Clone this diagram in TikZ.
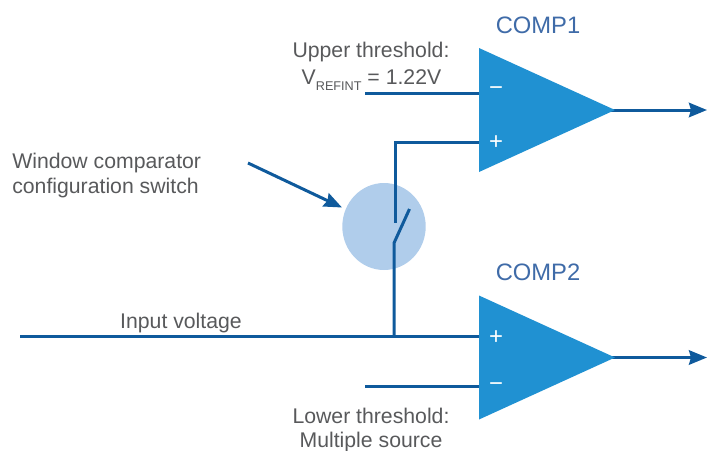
\documentclass[tikz,border=0pt]{standalone}
\usepackage{fontspec}
\setmainfont{Liberation Sans}
\usetikzlibrary{positioning,arrows.meta,calc}
\definecolor{wireblue}{HTML}{0F5A9C}
\definecolor{compblue}{HTML}{2091D2}
\definecolor{switchblue}{HTML}{B0CDEB}
\definecolor{titleblue}{HTML}{3F6BA8}
\definecolor{labelgray}{HTML}{58595B}
\tikzset{
  wire/.style={draw=wireblue,line width=0.075cm},
  outwire/.style={wire,-{Stealth[length=0.45cm,width=0.36cm,inset=0.05cm]}},
  comp/.style={fill=compblue},
  pin/.style={text=white,font=\fontsize{17}{17}\selectfont,inner sep=0pt},
  comptitle/.style={text=titleblue,font=\fontsize{16.9}{18}\selectfont,inner sep=0pt},
  lbl/.style={text=labelgray,font=\fontsize{15.1}{17.8}\selectfont,inner sep=0pt,align=center}
}
\begin{document}
\begin{tikzpicture}[x=0.025cm,y=-0.025cm]
  \useasboundingbox (0,0) rectangle (708,450);
  % switch
  \fill[switchblue] (384,226.5) ellipse (41.7 and 43.5);
  \coordinate (closeA) at (395.5,142);
  \coordinate (closeB) at (395.5,223);
  \coordinate (bladeTop) at (409.5,209);
  \coordinate (bladeBot) at (394,243);
  \coordinate (junction) at (394,336.5);
  % comparators
  \coordinate (c1top) at (479,48);
  \coordinate (c1bot) at (479,172);
  \coordinate (c1out) at (615,110);
  \coordinate (c2top) at (479,295.5);
  \coordinate (c2bot) at (479,419.5);
  \coordinate (c2out) at (615,357.5);
  \coordinate (c1minus) at (479,93);
  \coordinate (c1plus) at (479,142);
  \coordinate (c2plus) at (479,336.5);
  \coordinate (c2minus) at (479,386.5);
  \coordinate (upperEnd) at (365,93);
  \coordinate (lowerEnd) at (365,386.5);
  \coordinate (inputEnd) at (20,336.5);
  \coordinate (out1End) at (707,110);
  \coordinate (out2End) at (707,357.5);
  \coordinate (arrowFrom) at (248,163);
  \coordinate (arrowTo) at (342,207.5);
  \draw[wire] (upperEnd) -- (c1minus);
  \draw[wire] (c1plus) -- (closeA) -- (closeB);
  \draw[wire,line join=round] (bladeTop) -- (bladeBot) -- (junction);
  \draw[wire] (inputEnd) -- (c2plus);
  \draw[wire] (lowerEnd) -- (c2minus);
  \draw[outwire,shorten <=-0.1cm] (c1out) -- (out1End);
  \draw[outwire,shorten <=-0.1cm] (c2out) -- (out2End);
  \draw[outwire] (arrowFrom) -- (arrowTo);
  \fill[comp] (c1top) -- (c1out) -- (c1bot) -- cycle;
  \fill[comp] (c2top) -- (c2out) -- (c2bot) -- cycle;
  \node[pin] (p1) at (496,142.5) {+};
  \node[pin] (m1) at (496,91) {−};
  \node[pin] (p2) at (496,337.5) {+};
  \node[pin] (m2) at (496,387.5) {−};
  % labels
  \node[comptitle] (comp1) at (538,25) {COMP1};
  \node[comptitle] (comp2) at (538,272) {COMP2};
  \node[lbl] (upper) at (371,52) {Upper threshold:};
  \node[lbl,anchor=base] (vref) at (371.5,84) {V\raisebox{-0.55ex}{\fontsize{9}{10}\selectfont REFINT} = 1.22V};
  \node[lbl,anchor=west,align=left] (window) at (12,175.5) {Window comparator\\configuration switch};
  \node[lbl] (input) at (181,322.5) {Input voltage};
  \node[lbl] (lower) at (371,415.5) {Lower threshold:};
  \node[lbl] (multi) at (371,441.5) {Multiple source};
\end{tikzpicture}
\end{document}
